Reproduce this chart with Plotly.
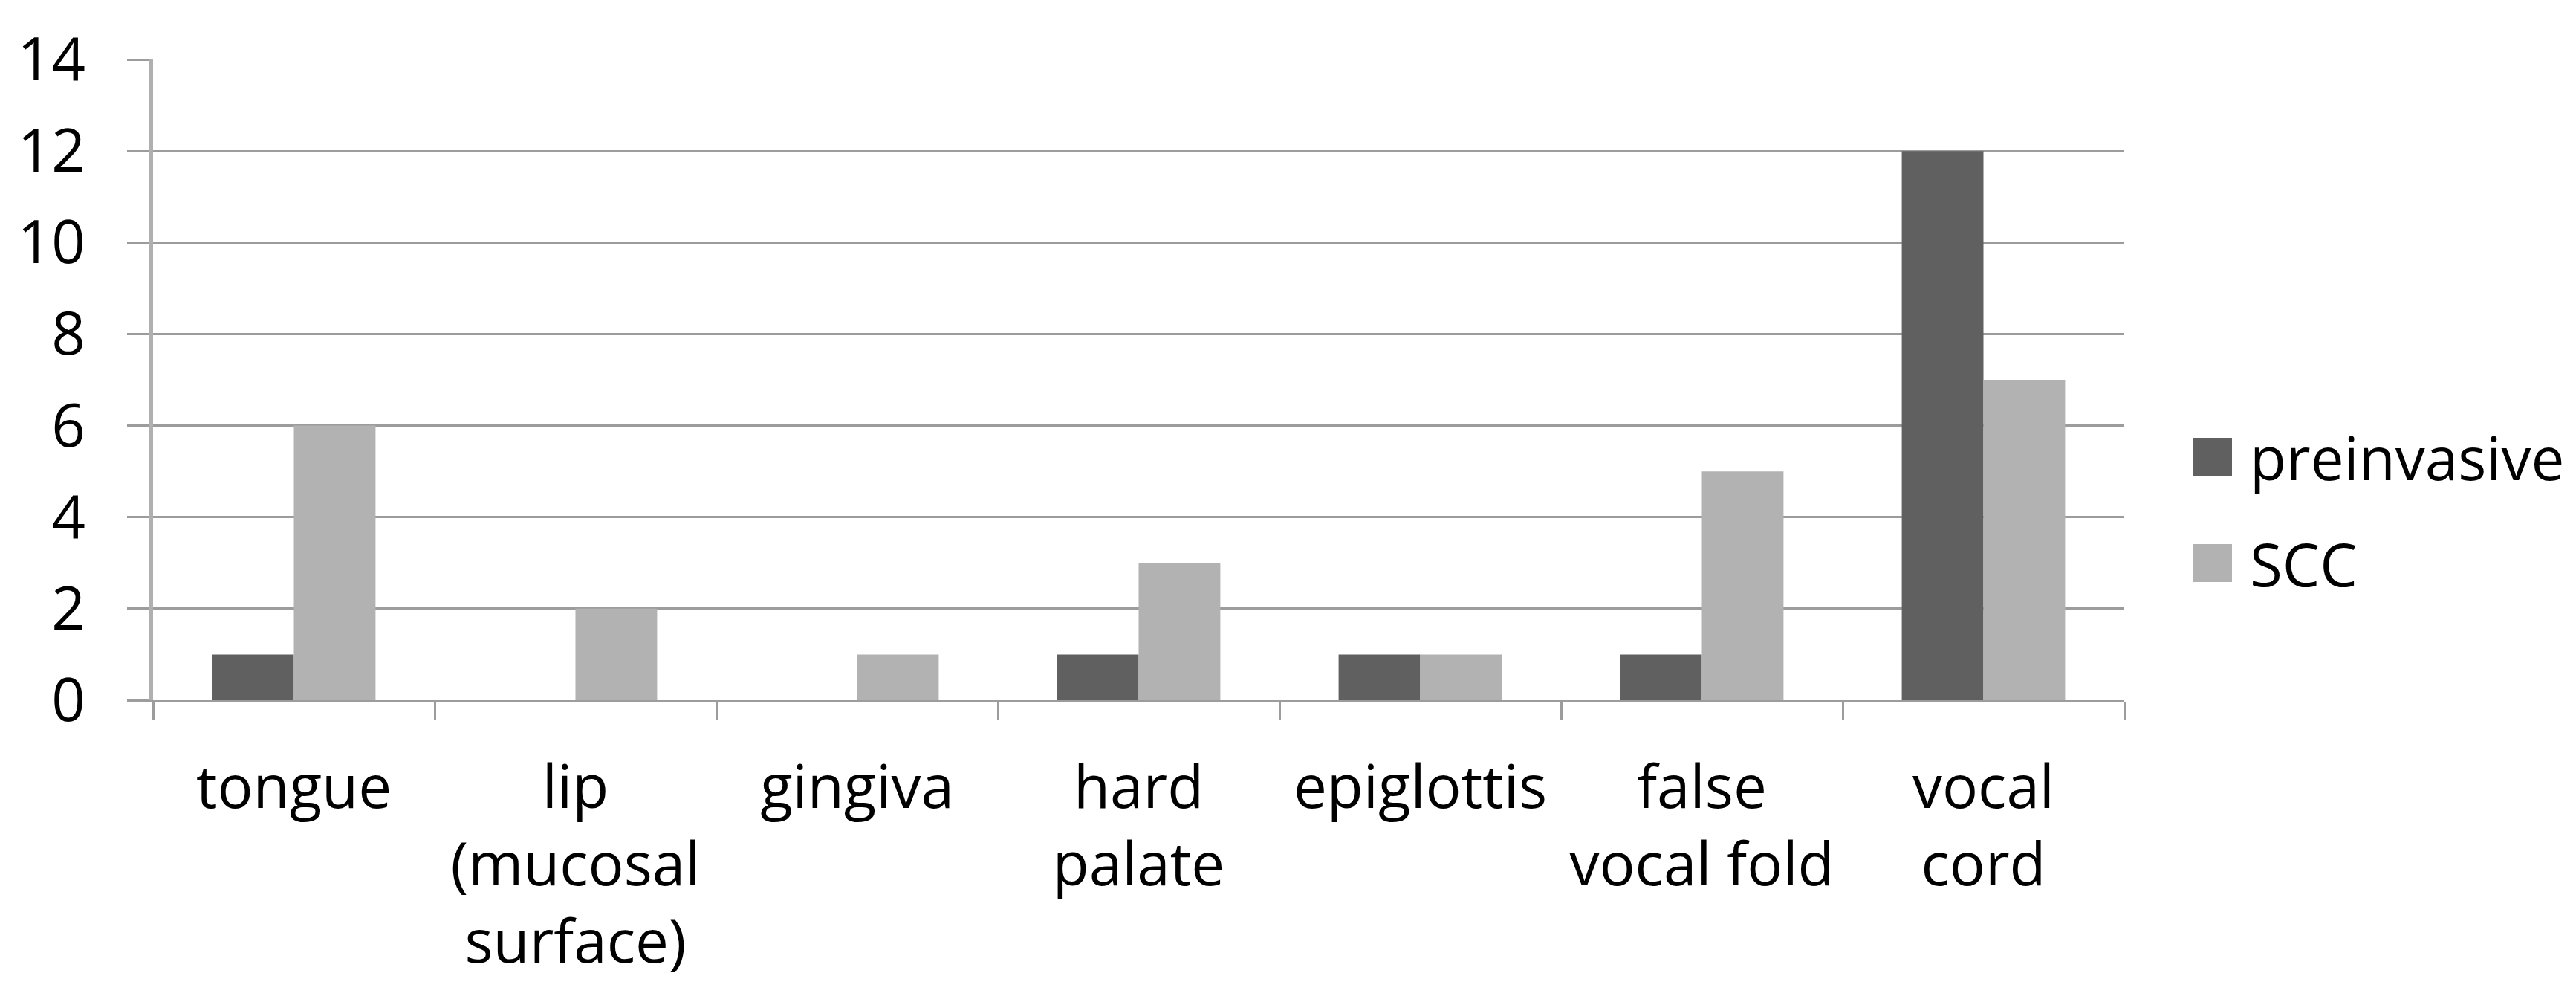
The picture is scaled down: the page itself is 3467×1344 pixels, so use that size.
import plotly.graph_objects as go

# categories and counts
sites = ['tongue', 'lip<br>(mucosal<br>surface)', 'gingiva', 'hard<br>palate',
         'epiglottis', 'false<br>vocal fold', 'vocal<br>cord']
preinvasive = [1, 0, 0, 1, 1, 1, 12]
scc = [6, 2, 1, 3, 1, 5, 7]
series_names = ['preinvasive', 'SCC']
series_colors = ['#606060', '#b2b2b2']
y_ticks = [0, 2, 4, 6, 8, 10, 12, 14]

FONT = 'Open Sans'
GRID = '#9c9c9c'

fig = go.Figure()
for name, vals, col in zip(series_names, [preinvasive, scc], series_colors):
    fig.add_trace(go.Bar(x=sites, y=vals, name=name, marker_color=col,
                         marker_line_width=0, showlegend=False))

# page body adds 8px on top/left, so the margins are cut by that much
fig.update_layout(
    width=3451, height=1328, autosize=False,
    margin=dict(l=198, r=600, t=72, b=394),
    plot_bgcolor='white', paper_bgcolor='white',
    barmode='group', bargap=0.42, bargroupgap=0,
    font=dict(family=FONT, size=80, color='black'),
)
fig.update_yaxes(
    range=[0, 14], tickvals=y_ticks, showgrid=True, gridcolor=GRID, gridwidth=3,
    ticks='outside', ticklen=30, tickwidth=3, tickcolor=GRID,
    showline=True, linecolor='#b0b0b0', linewidth=5,
    zeroline=False, ticklabelstandoff=40,
    tickfont=dict(family=FONT, size=80),
)
fig.update_xaxes(
    range=[-0.5, 6.5], tickson='boundaries', ticks='outside', ticklen=24,
    tickwidth=3, tickcolor=GRID, showline=True, linecolor=GRID, linewidth=3,
    ticklabelstandoff=46, tickfont=dict(family=FONT, size=80),
)

# legend drawn by hand so the swatches can be as big as in the original
span_x = 2859 - 206
span_y = 942 - 80
legend_rows = [(589, 640), (732, 783)]
for (top, bot), name, col in zip(legend_rows, series_names, series_colors):
    fig.add_shape(type='rect', xref='paper', yref='paper',
                  x0=(2952 - 206) / span_x, x1=(3004 - 206) / span_x,
                  y0=(942 - bot) / span_y, y1=(942 - top) / span_y,
                  fillcolor=col, line_width=0)
    fig.add_annotation(xref='paper', yref='paper', x=(3026 - 206) / span_x,
                       y=(942 - (top + bot) / 2) / span_y, text=name,
                       showarrow=False, xanchor='left', yanchor='middle',
                       font=dict(family=FONT, size=80, color='black'))

fig.write_html("out.html")
